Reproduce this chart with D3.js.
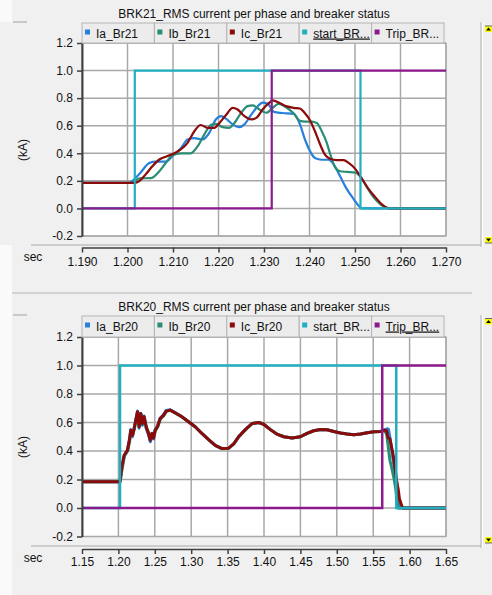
<!DOCTYPE html>
<html><head><meta charset="utf-8">
<script src="https://cdn.jsdelivr.net/npm/d3@7"></script>
<style>
html,body{margin:0;padding:0;background:#f0f0f0;}
svg{display:block;}
text{font-family:"Liberation Sans",Arial,sans-serif;fill:#111;}
</style>
</head><body>
<svg id="c" width="492" height="595"></svg>
<script>
// ---------------- DATA ----------------
const yTicks = [-0.2, 0.0, 0.2, 0.4, 0.6, 0.8, 1.0, 1.2];
const yTickLabels = ["-0.2", "0.0", "0.2", "0.4", "0.6", "0.8", "1.0", "1.2"];

const xTicks21 = [1.190, 1.200, 1.210, 1.220, 1.230, 1.240, 1.250, 1.260, 1.270];
const xTickLabels21 = ["1.190", "1.200", "1.210", "1.220", "1.230", "1.240", "1.250", "1.260", "1.270"];
const xTicks20 = [1.15, 1.20, 1.25, 1.30, 1.35, 1.40, 1.45, 1.50, 1.55, 1.60, 1.65];
const xTickLabels20 = ["1.15", "1.20", "1.25", "1.30", "1.35", "1.40", "1.45", "1.50", "1.55", "1.60", "1.65"];

const title21 = "BRK21_RMS current per phase and breaker status";
const title20 = "BRK20_RMS current per phase and breaker status";
const legend21 = ["Ia_Br21", "Ib_Br21", "Ic_Br21", "start_BR...", "Trip_BR..."];
const legend20 = ["Ia_Br20", "Ib_Br20", "Ic_Br20", "start_BR...", "Trip_BR..."];

// BRK21 series [time, kA]
const ia21 = [[1.190,0.185],[1.2002,0.185],[1.2026,0.25],[1.2048,0.33],[1.2062,0.34],[1.2084,0.34],[1.2099,0.38],[1.2117,0.435],[1.2132,0.50],[1.2147,0.51],[1.2165,0.50],[1.2180,0.55],[1.2194,0.645],[1.2206,0.67],[1.2217,0.65],[1.2231,0.61],[1.2246,0.59],[1.2257,0.61],[1.2272,0.68],[1.2286,0.74],[1.2297,0.767],[1.2308,0.76],[1.2322,0.70],[1.2340,0.692],[1.2366,0.685],[1.2379,0.61],[1.2390,0.50],[1.2401,0.416],[1.2412,0.365],[1.2427,0.353],[1.2442,0.353],[1.2453,0.32],[1.2467,0.235],[1.2482,0.14],[1.2497,0.068],[1.2508,0.02],[1.2515,0.0],[1.270,0.0]];
const ib21 = [[1.190,0.185],[1.2011,0.185],[1.2026,0.218],[1.2051,0.22],[1.2070,0.27],[1.2084,0.33],[1.2099,0.385],[1.2117,0.40],[1.2139,0.40],[1.2154,0.45],[1.2169,0.537],[1.2183,0.605],[1.2194,0.614],[1.2209,0.59],[1.2224,0.585],[1.2235,0.62],[1.2250,0.694],[1.2264,0.742],[1.2275,0.747],[1.2290,0.718],[1.2305,0.694],[1.2319,0.73],[1.2332,0.758],[1.2350,0.73],[1.2365,0.69],[1.2379,0.635],[1.2390,0.63],[1.2405,0.63],[1.2416,0.62],[1.2427,0.56],[1.2438,0.475],[1.2445,0.40],[1.2456,0.30],[1.2467,0.27],[1.2482,0.265],[1.2501,0.26],[1.2512,0.23],[1.2526,0.155],[1.2541,0.08],[1.2556,0.03],[1.2570,0.005],[1.2575,0.0],[1.270,0.0]];
const ic21 = [[1.190,0.185],[1.2015,0.185],[1.2026,0.198],[1.2040,0.247],[1.2055,0.307],[1.2070,0.355],[1.2088,0.38],[1.2103,0.40],[1.2117,0.428],[1.2132,0.476],[1.2147,0.56],[1.2161,0.605],[1.2176,0.585],[1.2191,0.585],[1.2202,0.62],[1.2217,0.68],[1.2231,0.73],[1.2242,0.718],[1.2257,0.67],[1.2272,0.646],[1.2283,0.657],[1.2297,0.718],[1.2312,0.767],[1.2319,0.784],[1.2334,0.765],[1.2350,0.74],[1.2365,0.73],[1.2379,0.725],[1.2390,0.69],[1.2401,0.64],[1.2412,0.56],[1.2423,0.467],[1.2434,0.39],[1.2445,0.36],[1.2460,0.35],[1.2475,0.35],[1.2486,0.33],[1.2501,0.285],[1.2516,0.21],[1.2530,0.14],[1.2545,0.08],[1.2559,0.03],[1.2570,0.005],[1.2575,0.0],[1.270,0.0]];
const start21 = [[1.190,0],[1.2016,1],[1.2512,0],[1.270,0]];
const trip21 = [[1.190,0],[1.2317,1],[1.270,1]];

// BRK20 series [time, kA]
const ia20 = [[1.150,0.185],[1.2022,0.185],[1.2046,0.28],[1.2078,0.36],[1.2124,0.41],[1.2151,0.48],[1.2170,0.55],[1.2193,0.50],[1.2216,0.56],[1.2239,0.62],[1.2265,0.68],[1.2284,0.56],[1.2307,0.665],[1.2330,0.58],[1.2353,0.645],[1.2381,0.56],[1.2413,0.515],[1.2440,0.465],[1.2459,0.52],[1.2482,0.485],[1.2505,0.55],[1.2537,0.575],[1.2573,0.63],[1.2619,0.655],[1.2656,0.685],[1.2711,0.69],[1.2780,0.668],[1.2872,0.64],[1.2963,0.605],[1.3055,0.57],[1.3147,0.523],[1.3239,0.48],[1.3330,0.44],[1.3422,0.417],[1.3514,0.42],[1.3583,0.45],[1.3651,0.50],[1.3743,0.55],[1.3835,0.593],[1.3927,0.60],[1.3995,0.588],[1.4087,0.55],[1.4179,0.518],[1.4271,0.50],[1.4385,0.492],[1.4498,0.50],[1.4590,0.523],[1.4682,0.542],[1.4774,0.551],[1.4866,0.549],[1.4958,0.537],[1.5050,0.526],[1.5142,0.519],[1.5234,0.514],[1.5326,0.519],[1.5418,0.528],[1.5510,0.535],[1.5602,0.537],[1.5660,0.548],[1.5693,0.556],[1.5710,0.553],[1.5730,0.495],[1.5760,0.39],[1.5790,0.28],[1.5822,0.17],[1.5841,0.05],[1.5855,0.0],[1.650,0.0]];
const ib20 = [[1.150,0.185],[1.2025,0.185],[1.2050,0.27],[1.2082,0.365],[1.2128,0.40],[1.2155,0.47],[1.2174,0.54],[1.2197,0.515],[1.2220,0.555],[1.2243,0.62],[1.2262,0.672],[1.2288,0.575],[1.2311,0.66],[1.2334,0.59],[1.2357,0.635],[1.2385,0.565],[1.2417,0.525],[1.2438,0.48],[1.2463,0.525],[1.2486,0.495],[1.2509,0.545],[1.2541,0.57],[1.2577,0.625],[1.2623,0.648],[1.2660,0.678],[1.2715,0.686],[1.2784,0.666],[1.2876,0.638],[1.2967,0.603],[1.3059,0.568],[1.3151,0.521],[1.3243,0.478],[1.3334,0.438],[1.3426,0.416],[1.3518,0.42],[1.3587,0.45],[1.3655,0.50],[1.3747,0.55],[1.3839,0.592],[1.3931,0.60],[1.3999,0.587],[1.4091,0.55],[1.4183,0.517],[1.4275,0.50],[1.4389,0.492],[1.4502,0.50],[1.4594,0.523],[1.4686,0.542],[1.4778,0.551],[1.4870,0.549],[1.4962,0.537],[1.5054,0.526],[1.5146,0.519],[1.5238,0.514],[1.5330,0.519],[1.5422,0.528],[1.5514,0.535],[1.5606,0.537],[1.5647,0.545],[1.5684,0.52],[1.5702,0.449],[1.5730,0.333],[1.5753,0.286],[1.5785,0.21],[1.5808,0.14],[1.5831,0.03],[1.5841,0.0],[1.650,0.0]];
const ic20 = [[1.150,0.185],[1.2022,0.185],[1.2046,0.285],[1.2078,0.37],[1.2124,0.405],[1.2151,0.476],[1.2170,0.546],[1.2193,0.51],[1.2216,0.558],[1.2239,0.616],[1.2261,0.675],[1.2284,0.57],[1.2307,0.663],[1.2330,0.593],[1.2353,0.64],[1.2381,0.57],[1.2413,0.523],[1.2436,0.476],[1.2459,0.523],[1.2482,0.49],[1.2505,0.546],[1.2537,0.57],[1.2573,0.628],[1.2619,0.65],[1.2656,0.68],[1.2711,0.687],[1.2780,0.668],[1.2872,0.64],[1.2963,0.605],[1.3055,0.57],[1.3147,0.523],[1.3239,0.48],[1.3330,0.44],[1.3422,0.417],[1.3514,0.42],[1.3583,0.45],[1.3651,0.50],[1.3743,0.55],[1.3835,0.593],[1.3927,0.60],[1.3995,0.588],[1.4087,0.55],[1.4179,0.518],[1.4271,0.50],[1.4385,0.492],[1.4498,0.50],[1.4590,0.523],[1.4682,0.542],[1.4774,0.551],[1.4866,0.549],[1.4958,0.537],[1.5050,0.526],[1.5142,0.519],[1.5234,0.514],[1.5326,0.519],[1.5418,0.528],[1.5510,0.535],[1.5602,0.537],[1.5647,0.547],[1.5684,0.542],[1.5702,0.495],[1.5730,0.484],[1.5753,0.426],[1.5776,0.367],[1.5799,0.286],[1.5822,0.193],[1.5846,0.123],[1.5860,0.065],[1.5894,0.012],[1.5908,0.0],[1.650,0.0]];
const start20 = [[1.150,0],[1.2022,1],[1.5817,0],[1.650,0]];
const trip20 = [[1.150,0],[1.5624,1],[1.650,1]];

// ---------------- STYLE ----------------
const seriesColors = ["#2680dc", "#2a8c74", "#8b0a0a", "#20afc0", "#8c1a8c"];

const svg = d3.select("#c");
svg.append("rect").attr("width", 492).attr("height", 595).attr("fill", "#f0f0f0");
svg.append("rect").attr("x", 0).attr("y", 245).attr("width", 12).attr("height", 350).attr("fill", "#fafafa");
svg.append("rect").attr("x", 0).attr("y", 0).attr("width", 12).attr("height", 22).attr("fill", "#fafafa");

function drawChart(o) {
  const g = svg.append("g");
  const L = 82, R = 446;
  const x = d3.scaleLinear().domain([o.xTicks[0], o.xTicks[o.xTicks.length - 1]]).range([L, R]);
  const y = d3.scaleLinear().domain([-0.2, 1.2]).range([o.plotBottom, o.plotTop]);

  // decorative panel lines
  g.append("line").attr("x1", 13).attr("x2", 27).attr("y1", o.legendY - 1).attr("y2", o.legendY - 1).attr("stroke", "#a0a0a0");
  g.append("line").attr("x1", 31).attr("x2", 481).attr("y1", o.sepY).attr("y2", o.sepY).attr("stroke", "#a8a8a8");

  // title
  g.append("text").attr("x", 254).attr("y", o.titleY).attr("text-anchor", "middle")
    .style("font-size", "12px").text(o.title);

  // plot background
  g.append("rect").attr("x", L).attr("y", o.plotTop).attr("width", R - L).attr("height", o.plotBottom - o.plotTop)
    .attr("fill", "#ffffff").attr("stroke", "#a0a0a0").attr("stroke-width", 1);

  // grid
  g.append("g").selectAll("line").data(o.xTicks).join("line")
    .attr("x1", d => x(d)).attr("x2", d => x(d)).attr("y1", o.plotTop).attr("y2", o.plotBottom)
    .attr("stroke", "#a8a8a8").attr("stroke-width", 1.5);
  g.append("g").selectAll("line").data(yTicks).join("line")
    .attr("x1", L).attr("x2", R).attr("y1", d => y(d)).attr("y2", d => y(d))
    .attr("stroke", "#a8a8a8").attr("stroke-width", 1.5);

  // series
  const lineC = d3.line().x(d => x(d[0])).y(d => y(d[1])).curve(o.curve);
  const lineS = d3.line().x(d => x(d[0])).y(d => y(d[1])).curve(d3.curveStepAfter);
  const clipId = "clip" + o.id;
  g.append("clipPath").attr("id", clipId).append("rect")
    .attr("x", L).attr("y", o.plotTop - 2).attr("width", R - L + 1).attr("height", o.plotBottom - o.plotTop + 2);
  const sg = g.append("g").attr("clip-path", `url(#${clipId})`);
  o.currents.forEach((s, i) => {
    sg.append("path").attr("d", lineC(s)).attr("fill", "none").attr("stroke", seriesColors[i])
      .attr("stroke-width", o.curW).attr("stroke-linejoin", "round");
  });
  sg.append("path").attr("d", lineS(o.start)).attr("fill", "none").attr("stroke", seriesColors[3]).attr("stroke-width", o.sigW);
  sg.append("path").attr("d", lineS(o.trip)).attr("fill", "none").attr("stroke", seriesColors[4]).attr("stroke-width", o.sigW);

  // y axis
  const ya = g.append("g").attr("transform", `translate(${L},0)`)
    .call(d3.axisLeft(y).tickValues(yTicks).tickFormat((d, i) => yTickLabels[i]).tickSize(5).tickSizeOuter(0).tickPadding(4));
  ya.select(".domain").attr("stroke", "#404040").attr("stroke-width", 2);
  ya.selectAll(".tick line").attr("stroke", "#404040").attr("stroke-width", 1.5);
  ya.selectAll("text").style("font-size", "12px").style("font-family", "'Liberation Sans',Arial,sans-serif").attr("fill", "#111");

  // x axis
  const xa = g.append("g").attr("transform", `translate(0,${o.axisY})`)
    .call(d3.axisBottom(x).tickValues(o.xTicks).tickFormat((d, i) => o.xTickLabels[i]).tickSize(5).tickSizeOuter(0).tickPadding(o.xPad));
  xa.select(".domain").attr("stroke", "#404040").attr("stroke-width", 1.5);
  xa.selectAll(".tick line").attr("stroke", "#404040").attr("stroke-width", 1.5);
  xa.selectAll("text").style("font-size", "12px").style("font-family", "'Liberation Sans',Arial,sans-serif").attr("fill", "#111");

  g.append("text").attr("x", 33).attr("y", o.secY).attr("text-anchor", "middle").style("font-size", "12px").text("sec");
  g.append("text").attr("transform", `translate(27,${o.kAY}) rotate(-90)`).attr("text-anchor", "middle")
    .style("font-size", "12px").text("(kA)");

  // legend tabs
  const cw = (R - 2 - L) / 5;
  const lg = g.append("g");
  o.legend.forEach((name, i) => {
    const cx = L + i * cw;
    lg.append("rect").attr("x", cx).attr("y", o.legendY).attr("width", cw).attr("height", o.plotTop - o.legendY)
      .attr("fill", "#ececec").attr("stroke", "#b4b4b4").attr("stroke-width", 1);
    lg.append("rect").attr("x", cx + 3).attr("y", o.legendY + 6.5).attr("width", 5).attr("height", 5).attr("fill", seriesColors[i]);
    const t = lg.append("text").attr("x", cx + 14).attr("y", o.legendY + 14.5).style("font-size", "12px").text(name);
    if (i === o.underline) t.style("text-decoration", "underline");
  });

  // right scroll strip
  g.append("line").attr("x1", 481).attr("x2", 481).attr("y1", o.legendY - 1).attr("y2", o.sepY + 2).attr("stroke", "#b0b0b0");
  g.append("line").attr("x1", 482.5).attr("x2", 482.5).attr("y1", o.legendY - 1).attr("y2", o.sepY + 2).attr("stroke", "#ffffff");
  [[o.btnTop, true], [o.btnBottom, false]].forEach(([by, up]) => {
    g.append("rect").attr("x", 485).attr("y", by).attr("width", 7).attr("height", 6).attr("fill", "#ffff00");
    const tri = up ? `M486,${by + 4.5}L491,${by + 4.5}L488.5,${by + 1.5}Z` : `M486,${by + 1.5}L491,${by + 1.5}L488.5,${by + 4.5}Z`;
    g.append("path").attr("d", tri).attr("fill", "#000");
    g.append("line").attr("x1", 485).attr("x2", 492).attr("y1", up ? by : by + 6).attr("y2", up ? by : by + 6).attr("stroke", "#666");
  });
}

drawChart({
  id: 21, title: title21, legend: legend21, underline: 3,
  xTicks: xTicks21, xTickLabels: xTickLabels21,
  currents: [ia21, ib21, ic21], start: start21, trip: trip21,
  curve: d3.curveMonotoneX, curW: 2.2, sigW: 2.2,
  titleY: 18, legendY: 23, plotTop: 43, plotBottom: 236, sepY: 245, axisY: 247.5, xPad: 5,
  secY: 260.5, kAY: 150, btnTop: 26, btnBottom: 237
});
drawChart({
  id: 20, title: title20, legend: legend20, underline: 4,
  xTicks: xTicks20, xTickLabels: xTickLabels20,
  currents: [ia20, ib20, ic20], start: start20, trip: trip20,
  curve: d3.curveLinear, curW: 3, sigW: 2.5,
  titleY: 310.5, legendY: 316, plotTop: 337, plotBottom: 536.5, sepY: 546, axisY: 549, xPad: 3.5,
  secY: 561.5, kAY: 447, btnTop: 318.5, btnBottom: 537
});
svg.append("line").attr("x1", 12).attr("x2", 472).attr("y1", 293).attr("y2", 293).attr("stroke", "#b4b4b4");
</script>
</body></html>
